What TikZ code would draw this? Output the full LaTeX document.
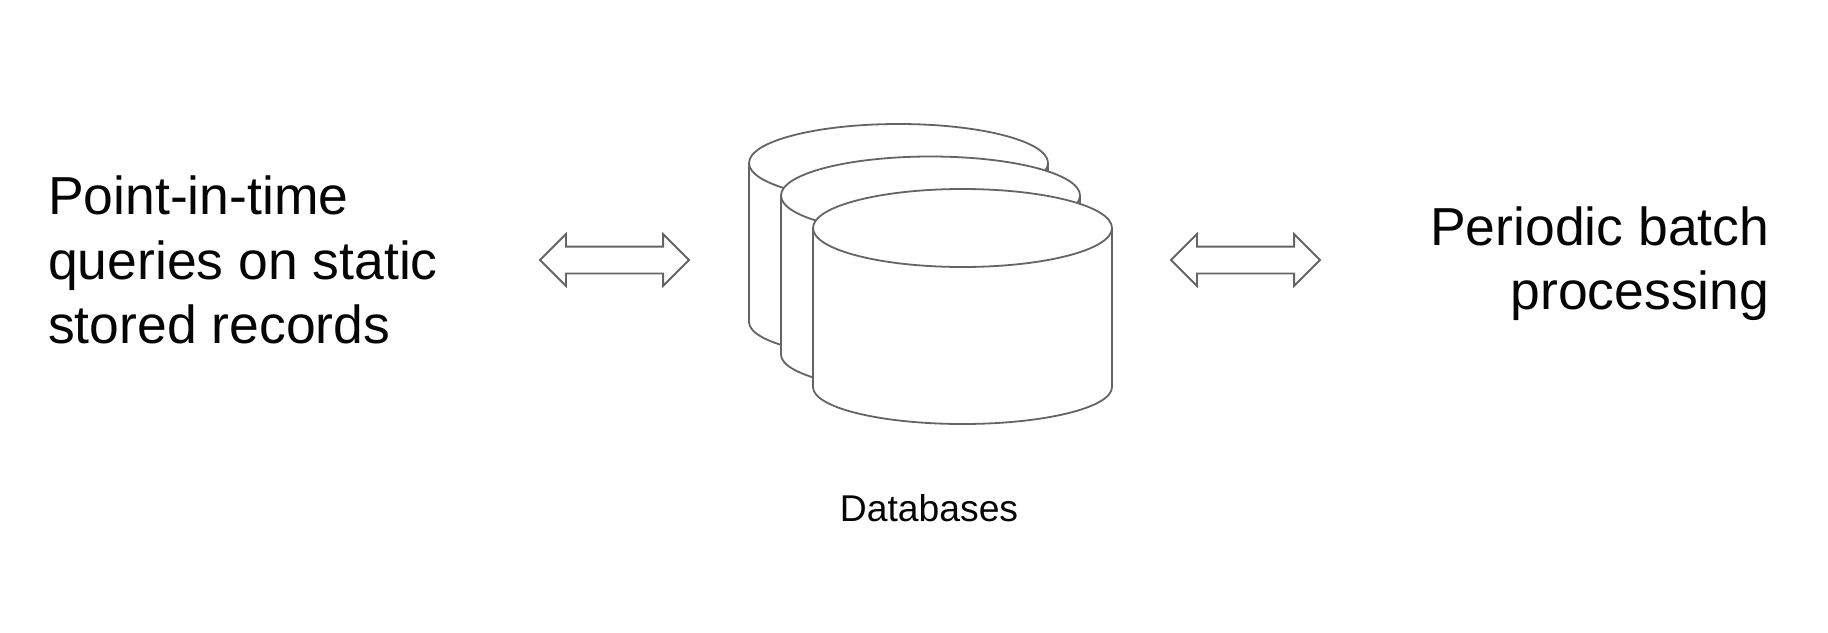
\documentclass[tikz,border=0pt]{standalone}
\usepackage{fontspec}
\setmainfont{Liberation Sans}
\usetikzlibrary{shapes.arrows,positioning}
\definecolor{linegray}{RGB}{100,100,100}
\definecolor{textblack}{RGB}{5,5,5}
\tikzset{
    % Define standard node styles
    dbline/.style={
        draw=linegray, line width=1.8pt, fill=white
    },
    dbdisk/.pic={
        \path[dbline] (-149.5,0) -- (-149.5,159) arc[start angle=180, end angle=0, x radius=149.5, y radius=37] -- (149.5,0) -- cycle;
        \path[dbline] (0,0) ellipse[x radius=149.5, y radius=39];
    },
    linkarrow/.style={
        double arrow, draw=linegray, line width=1.8pt, fill=white,
        minimum height=149pt, minimum width=50pt, inner xsep=0pt, inner ysep=12.5pt,
        outer sep=0pt, double arrow head extend=12.5pt, double arrow tip angle=90,
        double arrow head indent=0pt
    },
    bigtext/.style={
        font=\fontsize{53.5}{64.5}\selectfont, text=textblack, inner sep=0pt
    },
    smalltext/.style={
        font=\fontsize{37.3}{44}\selectfont, text=textblack, inner sep=0pt
    }
}
\begin{document}
\begin{tikzpicture}[x=1pt, y=-1pt]
\useasboundingbox (0,0) rectangle (1828,632);

% Stacked databases
\pic (db_back) at (898.5,163) {dbdisk};
\pic (db_middle) at (930.5,195.5) {dbdisk};
\pic (db_front) at (962.5,228) {dbdisk};

% Two-way arrows
\node[linkarrow] (left_link) at (614.5,260) {};
\node[linkarrow] (right_link) at (1245.5,260) {};

% Labels
\node[bigtext, anchor=west, align=left] (query_text) at (48,260) {Point-in-time\\queries on static\\stored records};
\node[bigtext, anchor=east, align=right] (batch_text) at (1769.5,263.5) {Periodic batch\\processing};
\node[smalltext, anchor=base] (db_text) at (929,521) {Databases};

\end{tikzpicture}
\end{document}
